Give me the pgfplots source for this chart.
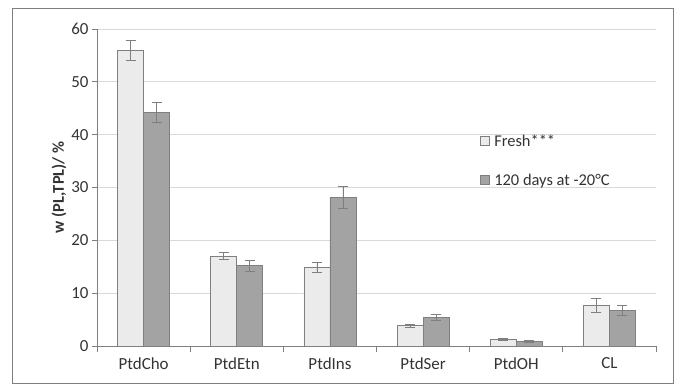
\documentclass[border=0pt]{standalone}
\usepackage{pgfplots}
\pgfplotsset{compat=1.18}
\usepackage{fontspec}
\setmainfont{Carlito}
\definecolor{freshfill}{HTML}{EBEBEB}
\definecolor{darkfill}{HTML}{A3A3A3}
\definecolor{edge}{HTML}{7F7F7F}
\definecolor{gridc}{HTML}{D9D9D9}
\begin{document}
\begin{tikzpicture}[x=1bp,y=1bp]
\useasboundingbox (-97,-41) rectangle (584,346);
\begin{axis}[
  at={(0,0)}, anchor=south west,
  scale only axis, width=559bp, height=317bp,
  ybar, bar width=26bp,
  xmin=-0.5, xmax=5.5, ymin=0, ymax=60,
  xtick={0,1,2,3,4,5},
  xticklabels={PtdCho,PtdEtn,PtdIns,PtdSer,PtdOH,CL},
  major x tick style={draw=none},
  minor xtick={-0.5,0.5,1.5,2.5,3.5,4.5,5.5},
  minor tick length=6bp,
  ytick={0,10,20,30,40,50,60},
  major tick length=5bp,
  tick align=outside,
  axis x line*=bottom, axis y line*=left,
  axis line style={edge, line width=0.8pt, -},
  tick style={edge, line width=0.8pt},
  ymajorgrids, grid style={gridc, line width=0.8pt},
  /pgf/number format/assume math mode=true,
  ticklabel style={font=\fontsize{17}{19}\selectfont, text=black!80},
  xticklabel style={yshift=-3bp},
  ylabel={\textbf{w (PL,TPL)/ \%}},
  ylabel style={font=\fontsize{16.5}{18}\selectfont, text=black!80, yshift=-2bp},
  legend style={at={(0.685,0.585)}, anchor=west, draw=none, fill=none,
    inner sep=0pt, outer sep=0pt,
    font=\fontsize{16.5}{18}\selectfont, text=black!80, row sep=22bp,
    legend cell align=left},
  legend image code/.code={\draw[#1] (0bp,-4.5bp) rectangle (9bp,4.5bp);
    \path[draw=none, fill=none] (0bp,0bp) -- (12bp,0bp);},
  error bars/y dir=both, error bars/y explicit,
  error bars/error bar style={edge, line width=0.8pt},
  error bars/error mark options={rotate=90, edge, mark size=5bp, line width=0.8pt},
]
\addplot[fill=freshfill, draw=edge, line width=0.8pt, bar shift=-13bp]
  coordinates {(0,55.9) +- (0,1.9) (1,17.0) +- (0,0.7) (2,14.9) +- (0,1.0)
               (3,3.85) +- (0,0.3) (4,1.27) +- (0,0.2) (5,7.7) +- (0,1.3)};
\addlegendentry{Fresh***}
\addplot[fill=darkfill, draw=edge, line width=0.8pt, bar shift=13bp]
  coordinates {(0,44.2) +- (0,1.9) (1,15.2) +- (0,1.0) (2,28.2) +- (0,2.1)
               (3,5.4) +- (0,0.5) (4,0.9) +- (0,0.15) (5,6.7) +- (0,1.0)};
\addlegendentry{120 days at -20°C}
\end{axis}
\draw[edge, line width=1pt] (-85,-37) rectangle (576,338);
\end{tikzpicture}
\end{document}
